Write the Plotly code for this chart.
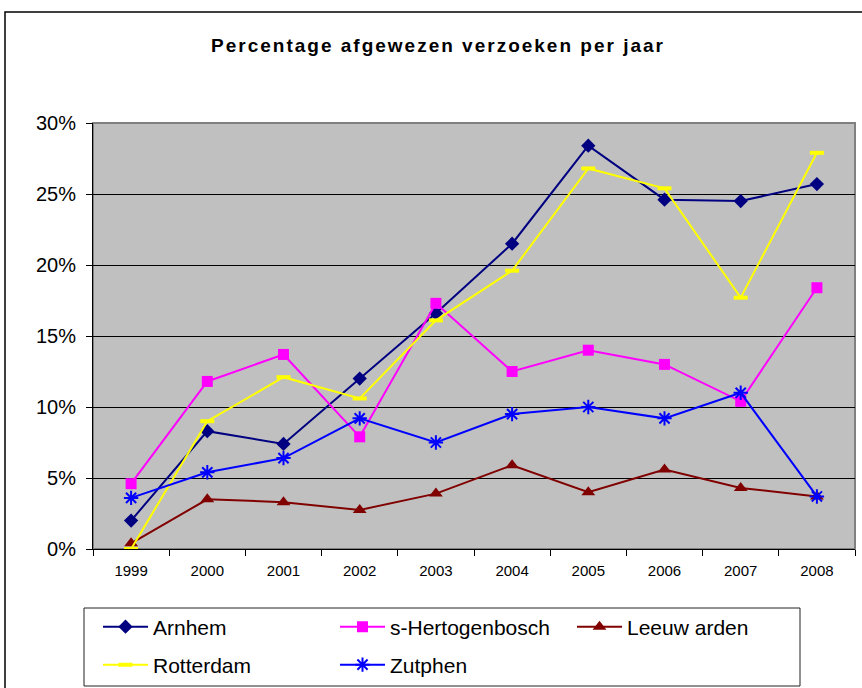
import plotly.graph_objects as go

years = ["1999", "2000", "2001", "2002", "2003", "2004", "2005", "2006", "2007", "2008"]

arnhem = [2.0, 8.3, 7.4, 12.0, 16.6, 21.5, 28.4, 24.6, 24.5, 25.7]
s_hertogenbosch = [4.6, 11.8, 13.7, 7.9, 17.3, 12.5, 14.0, 13.0, 10.4, 18.4]
leeuwarden = [0.4, 3.5, 3.3, 2.75, 3.9, 5.9, 4.0, 5.6, 4.3, 3.7]
rotterdam = [0.0, 9.0, 12.1, 10.6, 16.1, 19.6, 26.8, 25.4, 17.7, 27.9]
zutphen = [3.6, 5.4, 6.4, 9.2, 7.5, 9.5, 10.0, 9.2, 11.0, 3.7]

FONT = "Liberation Sans, Arial, sans-serif"

series = [
    ("Arnhem", arnhem, "#000080", dict(symbol="diamond", size=11, color="#000080"), "legend"),
    ("s-Hertogenbosch", s_hertogenbosch, "#FF00FF", dict(symbol="square", size=11, color="#FF00FF"), "legend"),
    ("Leeuw arden", leeuwarden, "#800000", dict(symbol="triangle-up", size=12, color="#800000"), "legend"),
    ("Rotterdam", rotterdam, "#FFFF00",
     dict(symbol="line-ew", size=10, color="#FFFF00", line=dict(color="#FFFF00", width=4)), "legend2"),
    ("Zutphen", zutphen, "#0000FF",
     dict(symbol="asterisk-open", size=12, color="#0000FF", line=dict(color="#0000FF", width=2)), "legend2"),
]

fig = go.Figure()
for name, vals, col, mk, lg in series:
    fig.add_trace(go.Scatter(
        x=years, y=[v / 100 for v in vals], mode="lines+markers", name=name,
        line=dict(color=col, width=2), marker=mk, legend=lg,
    ))

# pixel helpers for layout pieces (plot area 93..855 x 123..549)
def px(x):
    return (x - 93) / 762

def py(y):
    return (549 - y) / 426

legend_common = dict(
    orientation="h", xanchor="left", yanchor="middle",
    font=dict(family=FONT, size=21, color="black"),
    bgcolor="rgba(0,0,0,0)", borderwidth=0,
    itemwidth=45, entrywidth=177, entrywidthmode="pixels",
    traceorder="normal",
)

fig.update_layout(
    width=862, height=688,
    margin=dict(l=93, r=7, t=123, b=139, autoexpand=False),
    paper_bgcolor="white",
    plot_bgcolor="#C0C0C0",
    font=dict(family=FONT, color="black"),
    title=dict(
        text='<b><span style="letter-spacing:2px">Percentage afgewezen verzoeken per jaar</span></b>',
        x=438 / 862, xanchor="center", xref="container",
        y=1 - 45 / 688, yanchor="middle", yref="container",
        font=dict(family=FONT, size=19, color="black"),
    ),
    legend=dict(x=px(98), y=py(627), **legend_common),
    legend2=dict(x=px(98), y=py(665), **legend_common),
    showlegend=True,
    shapes=[
        # plot area border (grey)
        dict(type="rect", xref="paper", yref="paper", x0=0, y0=0, x1=1, y1=1,
             line=dict(color="#808080", width=2), layer="below"),
        # legend box
        dict(type="rect", xref="paper", yref="paper", x0=px(84), y0=py(686), x1=px(800), y1=py(608),
             line=dict(color="#222222", width=1)),
        # chart outer border
        dict(type="rect", xref="paper", yref="paper", x0=px(5), y0=py(720), x1=px(880), y1=py(12),
             line=dict(color="black", width=1.5)),
    ],
)

fig.update_xaxes(
    type="category", range=[-0.5, 9.5], tickson="boundaries",
    ticks="outside", ticklen=6, tickcolor="black", tickwidth=1,
    showline=True, linecolor="black", linewidth=1,
    showgrid=False, zeroline=False,
    tickfont=dict(family=FONT, size=15, color="black"),
    ticklabelstandoff=8,
)
fig.update_yaxes(
    range=[0, 0.30], dtick=0.05, tickformat=".0%",
    ticks="outside", ticklen=6, tickcolor="black", tickwidth=1,
    showline=True, linecolor="black", linewidth=1,
    showgrid=True, gridcolor="#000000", gridwidth=1, zeroline=False,
    tickfont=dict(family=FONT, size=20, color="black"),
    ticklabelstandoff=6,
)

fig.write_html("out.html", config={"displayModeBar": False},
               post_script="document.body.style.margin='0';")
